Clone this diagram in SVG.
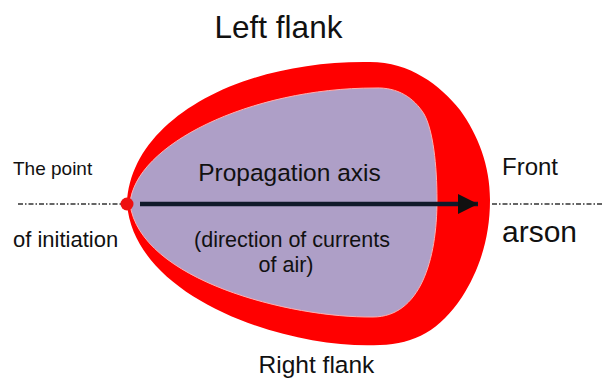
<svg xmlns="http://www.w3.org/2000/svg" width="604" height="381" viewBox="0 0 604 381">
<style>
text{font-family:"Liberation Sans",Arial,sans-serif;fill:#111}
.axis{stroke:#333;stroke-width:1.6;stroke-dasharray:5 2 1.5 2;fill:none}
</style>
<defs>
<marker id="ah" markerUnits="userSpaceOnUse" markerWidth="22" markerHeight="20" refX="20" refY="10" orient="auto">
<path d="M0,0 L20,10 L0,20 Z" fill="#111"/>
</marker>
</defs>
<rect width="604" height="381" fill="#fff"/>
<g id="fire">
<path d="M127,204 C130,120 240,60 370,62 C410,62 440,85 460,110 C478,135 490,165 490,200 C490,240 478,272 462,297 C440,330 415,344 380,345 C290,350 135,300 127,204 Z" fill="#ff0000"/>
<path d="M130,204 C134,145 250,88 375,88 C398,87 414,98 424,114 C433,130 437,165 437,200 C437,260 420,317 373,317 C290,318 140,280 130,204 Z" fill="#ae9fc7" stroke="#ffb0b0" stroke-width="1"/>
</g>
<g id="connectors">
<line class="axis" x1="18" y1="204" x2="124" y2="204"/>
<line class="axis" x1="492" y1="204" x2="602" y2="204"/>
<line x1="140" y1="204" x2="478" y2="204" stroke="#111a2a" stroke-width="4.5" marker-end="url(#ah)"/>
</g>
<g id="origin"><circle cx="127" cy="204" r="6.5" fill="#ee1111"/></g>
<g id="labels">
<text x="278.5" y="38" font-size="31.5" text-anchor="middle">Left flank</text>
<text x="316.5" y="373" font-size="24.5" text-anchor="middle">Right flank</text>
<text x="13" y="175" font-size="19">The point</text>
<text x="13" y="247" font-size="22">of initiation</text>
<text x="502" y="175" font-size="24">Front</text>
<text x="502" y="242" font-size="30">arson</text>
<text x="289.5" y="181" font-size="24.5" text-anchor="middle">Propagation axis</text>
<text x="292" y="247" font-size="21.5" text-anchor="middle">(direction of currents</text>
<text x="286" y="272" font-size="21.5" text-anchor="middle">of air)</text>
</g>
</svg>
